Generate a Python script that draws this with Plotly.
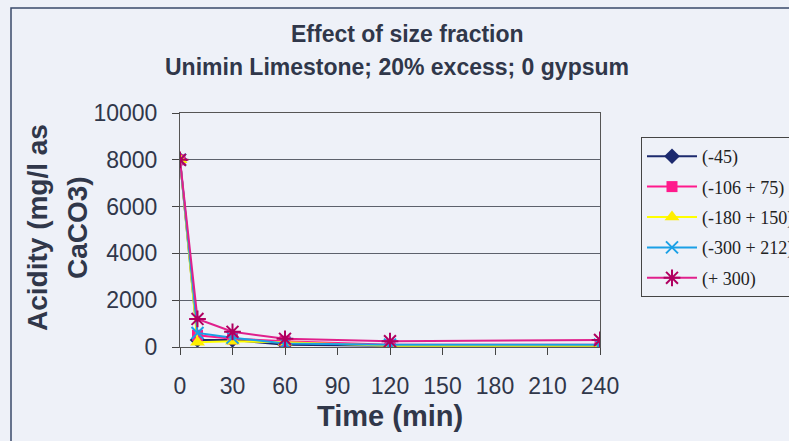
import plotly.graph_objects as go

time_min = [0, 10, 30, 60, 120, 240]
series_names = ["(-45)", "(-106 + 75)", "(-180 + 150)", "(-300 + 212)", "(+ 300)"]
acid_45 = [8000, 300, 300, 100, 50, 50]
acid_106_75 = [8000, 500, 350, 250, 100, 100]
acid_180_150 = [8000, 200, 250, 200, 50, 50]
acid_300_212 = [8000, 600, 400, 150, 100, 100]
acid_p300 = [8000, 1200, 650, 350, 250, 300]
x_ticks = [0, 30, 60, 90, 120, 150, 180, 210, 240]
y_ticks = [0, 2000, 4000, 6000, 8000, 10000]
y_tick_labels = ["0", "2000", "4000", "6000", "8000", "10000"]

series_values = [acid_45, acid_106_75, acid_180_150, acid_300_212, acid_p300]
line_colors = ["#1c2a6e", "#ff1a8c", "#ffff00", "#1aa0e6", "#e0208c"]
marker_colors = ["#1c2a6e", "#ff1a8c", "#ffee00", "#1aa0e6", "#b00060"]
symbols = ["diamond", "square", "triangle-up", "x-thin-open", "asterisk-open"]
sizes = [12, 11, 13, 12, 14]

bg = "#eef1f8"
txt = "#30374a"

fig = go.Figure()
for i, (name, vals, lc, mc, sym, sz) in enumerate(zip(series_names, series_values, line_colors, marker_colors, symbols, sizes)):
    open_sym = sym.endswith("open")
    fig.add_trace(go.Scatter(
        x=time_min, y=vals, name=name, mode="lines+markers", legendgroup=f"g{i}",
        line=dict(color=lc, width=2),
        marker=dict(symbol=sym, size=sz, color=mc,
                    line=dict(color=mc, width=2 if open_sym else 0)),
    ))

W, H = 789, 441
L, R, T, B = 180, 600, 113, 347
pw, ph = R - L, B - T

def px(xp):
    return (xp - L) / pw

def py(yp):
    return (B - yp) / ph

fig.update_layout(
    width=W, height=H,
    margin=dict(l=L, r=W - R, t=T, b=H - B, autoexpand=False),
    paper_bgcolor=bg, plot_bgcolor=bg,
    font=dict(family="Liberation Sans, Arial, sans-serif", color=txt),
    showlegend=True,
    legend=dict(
        x=px(641), y=py(137), xanchor="left", yanchor="top",
        bgcolor=bg, bordercolor="#444", borderwidth=1,
        font=dict(family="Liberation Serif, Times New Roman, serif", size=18, color="#222"),
        tracegroupgap=4, itemwidth=50,
    ),
    xaxis=dict(
        range=[0, 240], tickvals=x_ticks, ticks="outside", ticklen=7,
        tickcolor="#444", showgrid=False, showline=True, linecolor="#555",
        linewidth=1, mirror=True, zeroline=False, ticklabelstandoff=11,
        tickfont=dict(size=23, color=txt),
    ),
    yaxis=dict(
        range=[0, 10000], tickvals=y_ticks, ticktext=y_tick_labels,
        ticks="outside", ticklen=7, ticklabelstandoff=10,
        tickcolor="#444", showgrid=True, gridcolor="#5c616c", gridwidth=1,
        showline=True, linecolor="#555", linewidth=1, mirror=True,
        zeroline=False, tickfont=dict(size=23, color=txt),
    ),
    shapes=[
        dict(type="rect", xref="paper", yref="paper",
             x0=px(11), x1=px(805), y0=py(460), y1=py(8),
             line=dict(color="#3a4a6a", width=1.5), fillcolor="rgba(0,0,0,0)",
             layer="below"),
    ],
    annotations=[
        dict(text="<b>Effect of size fraction</b>", xref="paper", yref="paper",
             x=px(407), y=py(34), showarrow=False, xanchor="center", yanchor="middle",
             font=dict(size=23, color=txt)),
        dict(text="<b>Unimin Limestone; 20% excess; 0 gypsum</b>", xref="paper", yref="paper",
             x=px(397), y=py(67), showarrow=False, xanchor="center", yanchor="middle",
             font=dict(size=23, color=txt)),
        dict(text="<b>Acidity (mg/l as</b>", xref="paper", yref="paper",
             x=px(37), y=py(228), showarrow=False, textangle=-90,
             xanchor="center", yanchor="middle", font=dict(size=28, color=txt)),
        dict(text="<b>CaCO3)</b>", xref="paper", yref="paper",
             x=px(77), y=py(228), showarrow=False, textangle=-90,
             xanchor="center", yanchor="middle", font=dict(size=28, color=txt)),
        dict(text="<b>Time (min)</b>", xref="paper", yref="paper",
             x=px(390), y=py(416), showarrow=False,
             xanchor="center", yanchor="middle", font=dict(size=29, color=txt)),
    ],
)

fig.write_html("out.html")
